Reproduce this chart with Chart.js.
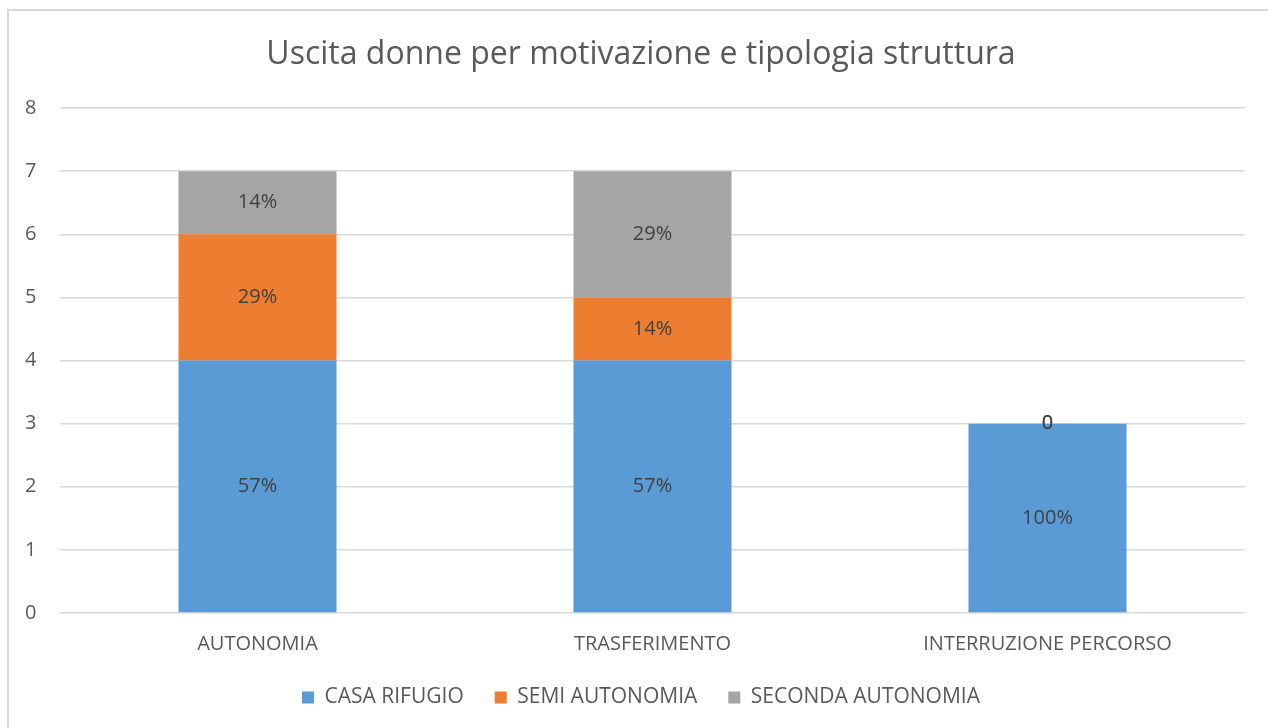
<!DOCTYPE html>
<html>
<head>
<meta charset="utf-8">
<script src="https://cdn.jsdelivr.net/npm/chart.js@4/dist/chart.umd.min.js"></script>
<style>
  html, body { margin: 0; padding: 0; background: #fff; }
  #wrap { position: relative; width: 1268px; height: 728px; overflow: hidden; }
  #frame { position: absolute; left: 7px; top: 9px; width: 1300px; height: 800px;
           border-left: 2px solid #d9d9d9; border-top: 2px solid #d9d9d9; box-sizing: border-box; }
  canvas { position: absolute; left: 0; top: 0; }
</style>
</head>
<body>
<div id="wrap">
  <div id="frame"></div>
  <canvas id="chart" width="1268" height="728"></canvas>
</div>
<script>
const categories = ['AUTONOMIA', 'TRASFERIMENTO', 'INTERRUZIONE PERCORSO'];
const casaRifugio = [4, 4, 3];
const semiAutonomia = [2, 1, 0];
const secondaAutonomia = [1, 2, 0];

const textColor = '#595959';
const fontFamily = '"Open Sans", Lato, sans-serif';

const totals = categories.map((_, i) => casaRifugio[i] + semiAutonomia[i] + secondaAutonomia[i]);

// draws the value labels in the middle of each segment
const segmentLabels = {
  id: 'segmentLabels',
  afterDatasetsDraw(chart) {
    const ctx = chart.ctx;
    ctx.save();
    ctx.font = '20px ' + fontFamily;
    ctx.fillStyle = '#404040';
    ctx.textAlign = 'center';
    ctx.textBaseline = 'middle';
    chart.data.datasets.forEach((ds, d) => {
      const meta = chart.getDatasetMeta(d);
      meta.data.forEach((bar, i) => {
        const v = ds.data[i];
        const txt = v === 0 ? '0' : Math.round(v / totals[i] * 100) + '%';
        ctx.fillText(txt, bar.x, (bar.y + bar.base) / 2);
      });
    });
    ctx.restore();
  }
};

new Chart(document.getElementById('chart'), {
  type: 'bar',
  data: {
    labels: categories,
    datasets: [
      { label: 'CASA RIFUGIO', data: casaRifugio, backgroundColor: '#5B9BD5' },
      { label: 'SEMI AUTONOMIA', data: semiAutonomia, backgroundColor: '#ED7D31' },
      { label: 'SECONDA AUTONOMIA', data: secondaAutonomia, backgroundColor: '#A5A5A5' },
    ],
  },
  options: {
    responsive: false,
    animation: false,
    layout: { padding: { left: 37, right: 23, top: 0, bottom: 10 } },
    datasets: { bar: { categoryPercentage: 1, barPercentage: 0.4 } },
    scales: {
      x: {
        stacked: true,
        grid: { display: false },
        border: { display: false },
        ticks: { color: textColor, font: { family: fontFamily, size: 20 }, padding: 11 },
        afterFit(scale) { scale.height = 43; },
      },
      y: {
        stacked: true,
        min: 0,
        max: 8,
        ticks: {
          stepSize: 1, color: textColor, font: { family: fontFamily, size: 20 },
          mirror: true, crossAlign: 'near', padding: -35,
        },
        grid: { color: '#d9d9d9', lineWidth: 1.5, drawTicks: false },
        border: { display: false },
        afterFit(scale) { scale.width = 23; },
      },
    },
    plugins: {
      title: {
        display: true,
        text: 'Uscita donne per motivazione e tipologia struttura',
        color: textColor,
        font: { family: fontFamily, size: 32, weight: 'normal' },
        padding: { top: 36, bottom: 33.6 },
      },
      legend: {
        position: 'bottom',
        labels: {
          color: textColor,
          font: { family: fontFamily, size: 21 },
          boxWidth: 12,
          boxHeight: 12,
          padding: 31,
        },
      },
      tooltip: { enabled: false },
    },
  },
  plugins: [segmentLabels],
});
</script>
</body>
</html>
